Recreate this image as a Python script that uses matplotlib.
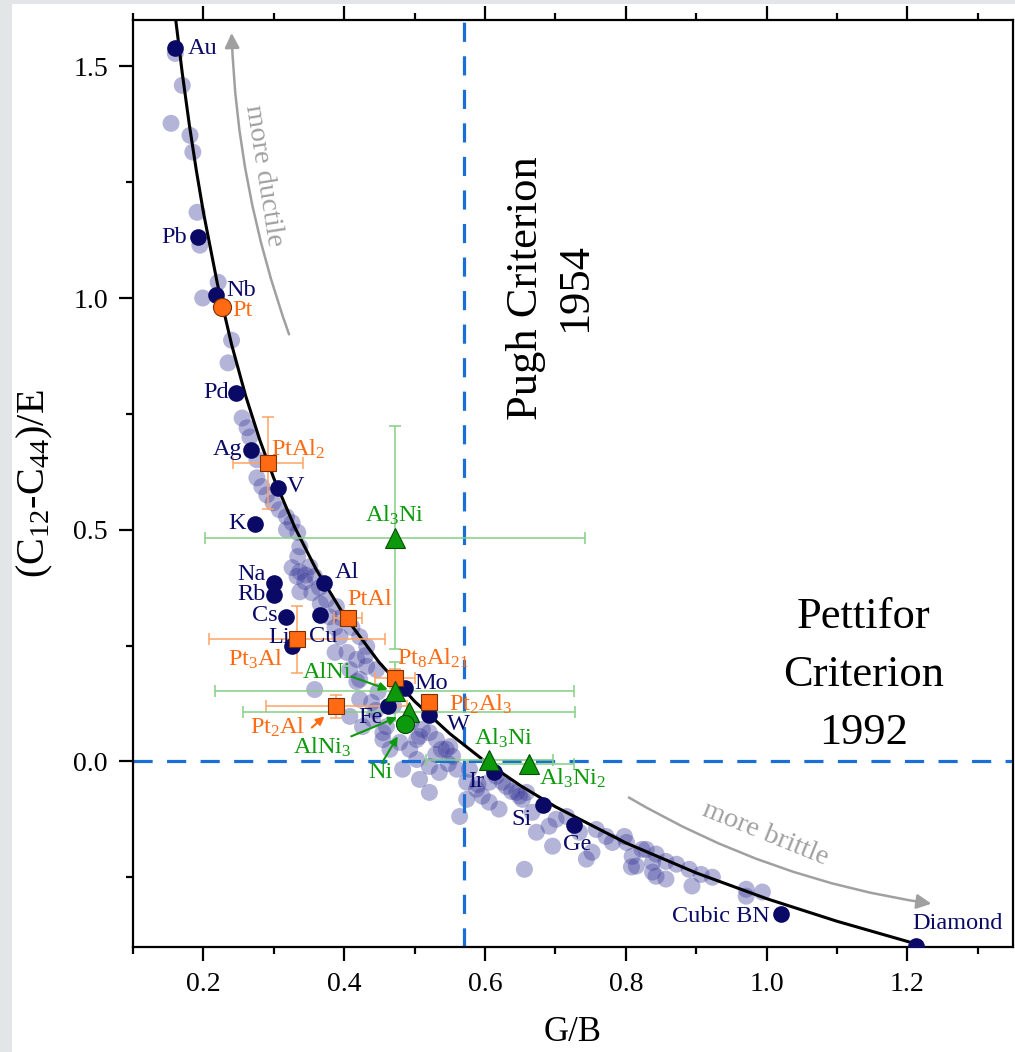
import matplotlib
matplotlib.use('Agg')
import matplotlib.pyplot as plt
from matplotlib.patches import Rectangle, FancyArrowPatch
from matplotlib.ticker import MultipleLocator

plt.rcParams['font.family'] = ['Liberation Serif', 'DejaVu Serif']
plt.rcParams['mathtext.default'] = 'regular'

# ---- theoretical relation ----
curve_gb = [0.16, 0.17, 0.18, 0.19, 0.20, 0.22, 0.24, 0.26, 0.28, 0.30, 0.33, 0.36,
            0.40, 0.45, 0.50, 0.55, 0.60, 0.65, 0.70, 0.80, 0.90, 1.00, 1.10, 1.21]
curve_ce = [1.609, 1.485, 1.374, 1.275, 1.185, 1.030, 0.900, 0.789, 0.694, 0.611, 0.5045, 0.4148,
            0.3148, 0.213, 0.1296, 0.0598, 0.0, -0.052, -0.0979, -0.1759, -0.2407, -0.2963, -0.3451, -0.393]

# ---- background materials (light circles) ----
bg_gb = [0.160, 0.170, 0.154, 0.181, 0.185, 0.191, 0.195, 0.221, 0.199, 0.240, 0.235, 0.255, 0.262,
         0.266, 0.276, 0.276, 0.283, 0.290, 0.299, 0.308, 0.318, 0.326, 0.334, 0.337, 0.334, 0.326,
         0.337, 0.351, 0.358, 0.344, 0.333, 0.337, 0.354, 0.365, 0.375, 0.389, 0.379, 0.387, 0.394,
         0.411, 0.422, 0.432, 0.387, 0.404, 0.418, 0.432, 0.408, 0.422, 0.446, 0.358, 0.418, 0.422,
         0.439, 0.408, 0.426, 0.440, 0.455, 0.460, 0.455, 0.465, 0.479, 0.493, 0.503, 0.507, 0.511,
         0.521, 0.531, 0.538, 0.545, 0.503, 0.483, 0.521, 0.507, 0.521, 0.535, 0.554, 0.550, 0.560,
         0.574, 0.574, 0.564, 0.578, 0.588, 0.596, 0.606, 0.606, 0.616, 0.620, 0.625, 0.630, 0.638,
         0.645, 0.649, 0.659, 0.653, 0.667, 0.673, 0.656, 0.691, 0.696, 0.701, 0.716, 0.734, 0.744,
         0.752, 0.758, 0.772, 0.781, 0.798, 0.801, 0.808, 0.809, 0.823, 0.829, 0.815, 0.838, 0.838,
         0.843, 0.843, 0.857, 0.857, 0.872, 0.890, 0.894, 0.907, 0.923, 0.971, 0.971, 0.994,
         0.318, 0.345, 0.366, 0.395, 0.430, 0.448, 0.470, 0.445, 0.495, 0.530, 0.548, 0.590]
bg_ce = [1.528, 1.459, 1.377, 1.351, 1.315, 1.185, 1.114, 1.034, 1.000, 0.909, 0.860, 0.741, 0.720,
         0.700, 0.651, 0.612, 0.593, 0.575, 0.558, 0.543, 0.528, 0.515, 0.494, 0.463, 0.442, 0.418,
         0.409, 0.420, 0.399, 0.388, 0.399, 0.366, 0.364, 0.375, 0.349, 0.334, 0.312, 0.289, 0.269,
         0.289, 0.269, 0.248, 0.235, 0.235, 0.220, 0.205, 0.198, 0.177, 0.198, 0.155, 0.172, 0.134,
         0.127, 0.097, 0.075, 0.091, 0.062, 0.075, 0.047, 0.026, 0.041, 0.026, 0.047, 0.054, 0.069,
         0.062, 0.047, 0.026, 0.026, 0.004, -0.017, -0.011, -0.039, -0.067, -0.024, 0.011, 0.032, -0.017,
         -0.045, -0.082, -0.119, -0.017, -0.060, -0.075, -0.088, -0.045, -0.032, -0.103, -0.045, -0.054, -0.065,
         -0.067, -0.075, -0.067, -0.082, -0.110, -0.153, -0.233, -0.140, -0.183, -0.125, -0.119, -0.153, -0.211,
         -0.196, -0.147, -0.162, -0.175, -0.162, -0.175, -0.228, -0.205, -0.190, -0.190, -0.226, -0.218, -0.239,
         -0.200, -0.248, -0.216, -0.254, -0.222, -0.233, -0.269, -0.244, -0.250, -0.276, -0.291, -0.282,
         0.500, 0.402, 0.340, 0.310, 0.228, 0.150, 0.120, 0.110, 0.085, 0.015, -0.005, -0.050]

# ---- labelled elements ----
elem_names = ['Au', 'Pb', 'Nb', 'Pd', 'Ag', 'V', 'K', 'Na', 'Rb', 'Al', 'Cs', 'Li', 'Cu',
              'Mo', 'Fe', 'W', 'Ir', 'Si', 'Ge', 'Cubic BN', 'Diamond']
elem_gb = [0.160, 0.192, 0.218, 0.246, 0.267, 0.306, 0.273, 0.300, 0.300, 0.372, 0.318, 0.326, 0.365,
           0.486, 0.462, 0.521, 0.613, 0.682, 0.727, 1.020, 1.212]
elem_ce = [1.539, 1.131, 1.006, 0.795, 0.672, 0.590, 0.513, 0.386, 0.360, 0.384, 0.3125, 0.248, 0.315,
           0.159, 0.119, 0.101, -0.022, -0.095, -0.138, -0.330, -0.399]

# ---- Pt-Al compounds ----
pt_gb, pt_ce = 0.226, 0.981
ptal_names = ['PtAl$_2$', 'PtAl', 'Pt$_3$Al', 'Pt$_8$Al$_{21}$', 'Pt$_2$Al$_3$', 'Pt$_2$Al']
ptal_gb = [0.2915, 0.405, 0.333, 0.472, 0.520, 0.389]
ptal_ce = [0.644, 0.310, 0.263, 0.179, 0.129, 0.119]
ptal_xerr = [0.05, 0.02, 0.125, 0.028, 0.0, 0.10]
ptal_yerr = [0.10, 0.0, 0.073, 0.02, 0.0, 0.025]

# ---- Al-Ni compounds ----
ni_gb, ni_ce = 0.486, 0.080
alni_names = ['Al$_3$Ni', 'AlNi', 'AlNi$_3$', 'Al$_3$Ni', 'Al$_3$Ni$_2$']
alni_gb = [0.472, 0.472, 0.492, 0.606, 0.662]
alni_ce = [0.483, 0.151, 0.106, 0.004, -0.006]
alni_xerr = [0.27, 0.255, 0.236, 0.09, 0.065]
alni_yerr = [0.24, 0.064, 0.0, 0.0, 0.0]

pugh_gb = 0.57
pettifor_ce = 0.0

# ---------------- styling ----------------
NAVY = '#0a0a66'
ORANGE = '#ff6a12'
ORANGE_L = '#ffa465'
GREEN = '#0c9a0c'
GREEN_L = '#84cf84'
BLUE = '#1a6fd6'
GRAY = '#a0a0a0'

W, H = 1015, 1052
fig = plt.figure(figsize=(W / 100, H / 100), dpi=100)
fig.patch.set_facecolor('#e2e6e6')
fig.patches.append(Rectangle((12 / W, 0), 1 - 12 / W, 1 - 4 / H, transform=fig.transFigure,
                             facecolor='white', edgecolor='none', zorder=-10))

ax = fig.add_axes([133 / W, 1 - 946.7 / H, (1013 - 133) / W, (946.7 - 20) / H])
ax.set_zorder(1)
ax.set_xlim(0.1, 1.35)
ax.set_ylim(-0.4, 1.6)

ax.scatter(bg_gb, bg_ce, s=150, color='#3c3c9c', alpha=0.38, edgecolors='none', zorder=1)
ax.axvline(pugh_gb, color=BLUE, lw=2.3, dashes=(6, 4.5), zorder=2)
ax.axhline(pettifor_ce, color=BLUE, lw=2.3, dashes=(6, 4.5), zorder=2)
ax.plot(curve_gb, curve_ce, color='black', lw=2.2, zorder=3, solid_capstyle='butt')

# elements
ax.plot(elem_gb, elem_ce, 'o', ms=12, color=NAVY, mec='none', zorder=5)

# error bars
for gx, gy, xe, ye in zip(ptal_gb, ptal_ce, ptal_xerr, ptal_yerr):
    ax.errorbar(gx, gy, xerr=xe if xe > 0 else None, yerr=ye if ye > 0 else None,
                fmt='none', ecolor=ORANGE_L, elinewidth=1.1, capsize=4, capthick=1.1, zorder=4)
for gx, gy, xe, ye in zip(alni_gb, alni_ce, alni_xerr, alni_yerr):
    ax.errorbar(gx, gy, xerr=xe if xe > 0 else None, yerr=ye if ye > 0 else None,
                fmt='none', ecolor=GREEN_L, elinewidth=1.1, capsize=4.5, capthick=1.1, zorder=4)

ax.plot(ptal_gb, ptal_ce, 's', ms=12, color=ORANGE, mec='#7a3000', mew=0.8, zorder=6)
ax.plot([pt_gb], [pt_ce], 'o', ms=13, color=ORANGE, mec='#7a3000', mew=0.8, zorder=6)
ax.plot(alni_gb, alni_ce, '^', ms=14, color=GREEN, mec='#064d06', mew=0.8, zorder=7)
ax.plot([ni_gb], [ni_ce], 'o', ms=13, color=GREEN, mec='#064d06', mew=0.8, zorder=7)

FS = 17.5
# element labels
elem_lab = {'Au': (0.178, 1.539, 'left'), 'Pb': (0.176, 1.131, 'right'), 'Nb': (0.233, 1.017, 'left'),
            'Pd': (0.236, 0.795, 'right'), 'Ag': (0.255, 0.672, 'right'), 'V': (0.319, 0.593, 'left'),
            'K': (0.260, 0.513, 'right'), 'Na': (0.288, 0.403, 'right'), 'Rb': (0.288, 0.360, 'right'),
            'Al': (0.386, 0.407, 'left'), 'Cs': (0.306, 0.315, 'right'), 'Li': (0.323, 0.267, 'right'),
            'Cu': (0.350, 0.269, 'left'), 'Mo': (0.500, 0.168, 'left'), 'Fe': (0.455, 0.095, 'right'),
            'W': (0.546, 0.080, 'left'), 'Ir': (0.599, -0.043, 'right'), 'Si': (0.666, -0.125, 'right'),
            'Ge': (0.731, -0.179, 'center'), 'Cubic BN': (1.005, -0.334, 'right'),
            'Diamond': (1.207, -0.351, 'left')}
for name in elem_names:
    tx, ty, ha = elem_lab[name]
    ax.text(tx, ty, name, color=NAVY, fontsize=FS, ha=ha, va='center', zorder=8)

ax.text(0.241, 0.974, 'Pt', color=ORANGE, fontsize=FS, ha='left', va='center', zorder=8)
ptal_lab = [(0.296, 0.674, 'left'), (0.404, 0.349, 'left'), (0.313, 0.220, 'right'),
            (0.475, 0.222, 'left'), (0.549, 0.124, 'left'), (0.345, 0.073, 'right')]
for name, (tx, ty, ha) in zip(ptal_names, ptal_lab):
    ax.text(tx, ty, name, color=ORANGE, fontsize=FS, ha=ha, va='center', zorder=8)

alni_lab = [(0.472, 0.530, 'center'), (0.410, 0.192, 'right'), (0.410, 0.030, 'right'),
            (0.584, 0.049, 'left'), (0.677, -0.037, 'left')]
for name, (tx, ty, ha) in zip(alni_names, alni_lab):
    ax.text(tx, ty, name, color=GREEN, fontsize=FS, ha=ha, va='center', zorder=8)
ax.text(0.452, -0.024, 'Ni', color=GREEN, fontsize=FS, ha='center', va='center', zorder=8)

# pointer arrows
arrow_kw = dict(arrowstyle='-|>', lw=1.5, mutation_scale=12, shrinkA=0, shrinkB=0)
for (x0, y0), (x1, y1), c in [((0.410, 0.183), (0.462, 0.155), GREEN),
                                ((0.410, 0.054), (0.475, 0.095), GREEN),
                                ((0.455, 0.000), (0.476, 0.054), GREEN),
                                ((0.354, 0.073), (0.372, 0.097), ORANGE)]:
    ax.annotate('', xy=(x1, y1), xytext=(x0, y0),
                arrowprops=dict(color=c, **arrow_kw), zorder=8)

# trend arrows
ax.add_patch(FancyArrowPatch((0.323, 0.916), (0.240, 1.578), connectionstyle='arc3,rad=-0.08',
                             arrowstyle='-|>', mutation_scale=22, lw=1.8, color=GRAY, zorder=2))
ax.text(0.285, 1.265, 'more ductile', color=GRAY, fontsize=20.5, rotation=-81,
        ha='center', va='center', rotation_mode='anchor', zorder=2)
ax.add_patch(FancyArrowPatch((0.801, -0.075), (1.238, -0.308), connectionstyle='arc3,rad=0.1',
                             arrowstyle='-|>', mutation_scale=22, lw=1.8, color=GRAY, zorder=2))
ax.text(0.998, -0.157, 'more brittle', color=GRAY, fontsize=20.5, rotation=-22,
        ha='center', va='center', rotation_mode='anchor', zorder=2)

# criteria text
ax.text(0.693, 1.022, 'Pugh Criterion\n1954', fontsize=32, rotation=90, ha='center', va='center',
        multialignment='center', linespacing=1.3)
ax.text(1.138, 0.186, 'Pettifor\nCriterion\n1992', fontsize=32, ha='center', va='center',
        multialignment='center', linespacing=1.58)

# axes formatting
ax.xaxis.set_major_locator(MultipleLocator(0.2))
ax.xaxis.set_minor_locator(MultipleLocator(0.1))
ax.yaxis.set_major_locator(MultipleLocator(0.5))
ax.yaxis.set_minor_locator(MultipleLocator(0.25))
ax.xaxis.set_major_formatter(plt.FuncFormatter(lambda v, p: f'{v:.1f}'))
ax.yaxis.set_major_formatter(plt.FuncFormatter(lambda v, p: f'{v:.1f}'))
ax.tick_params(which='both', direction='out', top=True, right=False, width=1.6,
               labelsize=20, colors='black')
ax.tick_params(which='major', length=10, pad=8)
ax.tick_params(which='minor', length=5)
for s in ax.spines.values():
    s.set_linewidth(1.6)

ax.set_xlabel('G/B', fontsize=25, labelpad=14)
ax.set_ylabel('(C$_{12}$-C$_{44}$)/E', fontsize=29, labelpad=13)

fig.savefig('out.png', dpi=100)
